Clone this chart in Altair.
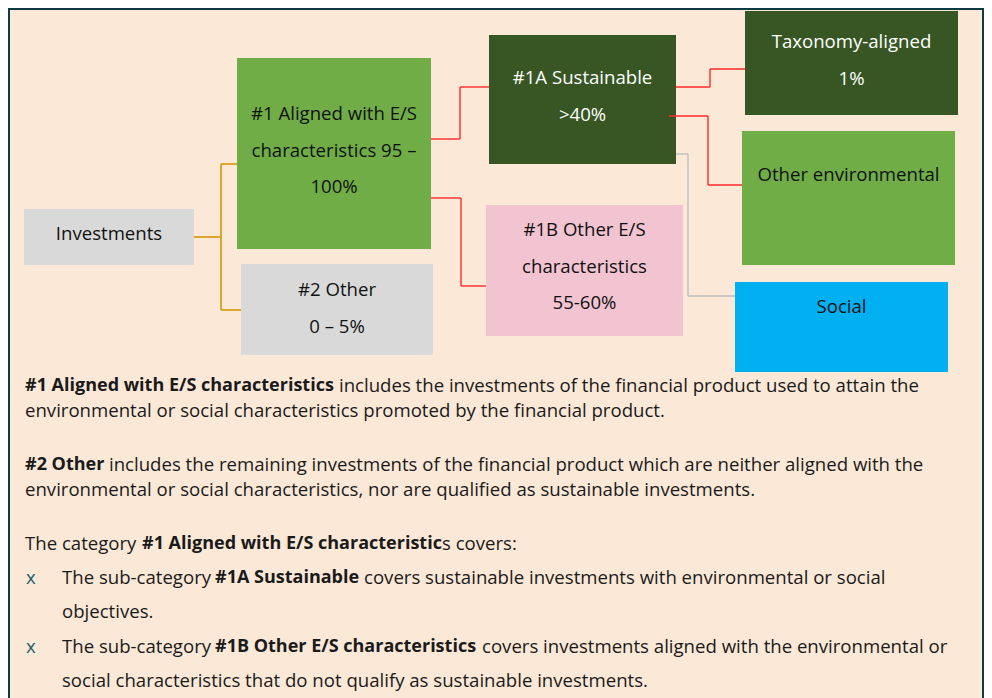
import altair as alt
import pandas as pd

FONT = "Open Sans"
FS = 18.6      # regular text
FS_BOLD = 18   # bold text

# ---------------- content ----------------
box_lines = [
    ["Investments"],
    ["#1 Aligned with E/S", "characteristics 95 \u2013", "100%"],
    ["#2 Other", "0 \u2013 5%"],
    ["#1A Sustainable", ">40%"],
    ["#1B Other E/S", "characteristics", "55-60%"],
    ["Taxonomy-aligned", "1%"],
    ["Other environmental"],
    ["Social"],
]

body_texts = [
    "#1 Aligned with E/S characteristics",
    "includes the investments of the financial product used to attain the",
    "environmental or social characteristics promoted by the financial product.",
    "#2 Other",
    "includes the remaining investments of the financial product which are neither aligned with the",
    "environmental or social characteristics, nor are qualified as sustainable investments.",
    "The category",
    "#1 Aligned with E/S characteristic",
    "s covers:",
    "x",
    "The sub-category",
    "#1A Sustainable",
    "covers sustainable investments with environmental or social",
    "objectives.",
    "x",
    "The sub-category",
    "#1B Other E/S characteristics",
    "covers investments aligned with the environmental or",
    "social characteristics that do not qualify as sustainable investments.",
]
body_bold = [1, 0, 0, 1, 0, 0, 0, 1, 0, 0, 0, 1, 0, 0, 0, 0, 1, 0, 0]
body_bullet = [0, 0, 0, 0, 0, 0, 0, 0, 0, 1, 0, 0, 0, 0, 1, 0, 0, 0, 0]

# ---------------- layout (page pixels) ----------------
box_x0 = [24, 237, 241, 489, 486, 745, 742, 735]
box_x1 = [194, 431, 433, 676, 683, 958, 955, 948]
box_y0 = [209, 58, 264, 35, 205, 11, 131, 282]
box_y1 = [265, 249, 355, 164, 336, 115, 265, 372]
box_fill = ["#d9d9d9", "#70ad47", "#d9d9d9", "#375623", "#f2c3d1",
            "#375623", "#70ad47", "#00b0f0"]
box_text_color = ["#111111", "#111111", "#111111", "#ffffff", "#111111",
                  "#ffffff", "#111111", "#111111"]
box_first_y = [234, 114, 290, 78, 230, 42, 175, 307]
LINE_GAP = 36.5

body_x = [25, 339, 25, 25, 109, 25, 25, 142, 442, 26, 62, 215, 364, 62, 26, 62, 215, 482, 62]
body_y = [386, 386, 411, 465, 465, 490, 544, 544, 544, 578, 578, 578, 578, 612,
          647, 647, 647, 647, 681]

connectors = [
    ("#d9a62e", 2.0, [(194, 237), (221, 237)]),
    ("#d9a62e", 2.0, [(237, 164), (221, 164), (221, 310), (241, 310)]),
    ("#ff2a2a", 1.4, [(431, 139), (460, 139), (460, 87), (489, 87)]),
    ("#ff2a2a", 1.4, [(431, 198), (461, 198), (461, 286), (486, 286)]),
    ("#ff2a2a", 1.4, [(676, 87), (710, 87), (710, 69), (745, 69)]),
    ("#ff2a2a", 1.4, [(669, 116), (708, 116), (708, 185), (742, 185)]),
    ("#bfbfbf", 1.4, [(676, 154), (688, 154), (688, 296), (735, 296)]),
]

# ---------------- tables ----------------
boxes = pd.DataFrame({"x": box_x0, "x2": box_x1, "y": box_y0, "y2": box_y1,
                      "fill": box_fill})

rows = []
for i, lines in enumerate(box_lines):
    cx = (box_x0[i] + box_x1[i]) / 2
    for j, t in enumerate(lines):
        rows.append({"x": cx, "y": box_first_y[i] + j * LINE_GAP, "text": t,
                     "color": box_text_color[i]})
box_text = pd.DataFrame(rows)

body = pd.DataFrame({"x": body_x, "y": body_y, "text": body_texts,
                     "bold": body_bold, "bullet": body_bullet})
body["color"] = ["#1f5f6e" if b else "#1a1a1a" for b in body["bullet"]]

segs = []
for k, (col, w, pts) in enumerate(connectors):
    for a, b in zip(pts[:-1], pts[1:]):
        segs.append({"x": a[0], "y": a[1], "x2": b[0], "y2": b[1],
                     "color": col, "w": w})
segs = pd.DataFrame(segs)

frame = pd.DataFrame({"x": [9], "x2": [983], "y": [9], "y2": [760]})

# ---------------- scales ----------------
X = dict(scale=alt.Scale(domain=[8, 984], nice=False, zero=False), axis=None)
Y = dict(scale=alt.Scale(domain=[8, 698], nice=False, zero=False, reverse=True), axis=None)

frame_layer = alt.Chart(frame).mark_rect(
    fill="#fbe8d7", stroke="#0e3a44", strokeWidth=2, clip=True
).encode(x=alt.X("x:Q", **X), x2="x2:Q", y=alt.Y("y:Q", **Y), y2="y2:Q")

box_layer = alt.Chart(boxes).mark_rect().encode(
    x=alt.X("x:Q", **X), x2="x2:Q", y=alt.Y("y:Q", **Y), y2="y2:Q",
    fill=alt.Fill("fill:N", scale=None),
)

seg_layer = alt.Chart(segs).mark_rule().encode(
    x=alt.X("x:Q", **X), x2="x2:Q", y=alt.Y("y:Q", **Y), y2="y2:Q",
    color=alt.Color("color:N", scale=None),
    strokeWidth=alt.StrokeWidth("w:Q", scale=None),
)

box_text_layer = alt.Chart(box_text).mark_text(
    font=FONT, fontSize=FS, align="center", baseline="middle"
).encode(
    x=alt.X("x:Q", **X), y=alt.Y("y:Q", **Y), text="text:N",
    color=alt.Color("color:N", scale=None),
)

body_regular = alt.Chart(body).transform_filter("datum.bold == 0").mark_text(
    font=FONT, fontSize=FS, align="left", baseline="middle"
).encode(
    x=alt.X("x:Q", **X), y=alt.Y("y:Q", **Y), text="text:N",
    color=alt.Color("color:N", scale=None),
)

body_boldl = alt.Chart(body).transform_filter("datum.bold == 1").mark_text(
    font=FONT, fontSize=FS_BOLD, fontWeight="bold", align="left", baseline="middle"
).encode(
    x=alt.X("x:Q", **X), y=alt.Y("y:Q", **Y), text="text:N",
    color=alt.Color("color:N", scale=None),
)

chart = alt.layer(
    frame_layer, box_layer, seg_layer, box_text_layer, body_regular, body_boldl
).properties(
    width=976, height=690, autosize=alt.AutoSizeParams(type="none"), padding=0,
    background="#ffffff",
).configure_view(stroke=None)

chart.save("out.html", embed_options={"renderer": "svg", "actions": False})
